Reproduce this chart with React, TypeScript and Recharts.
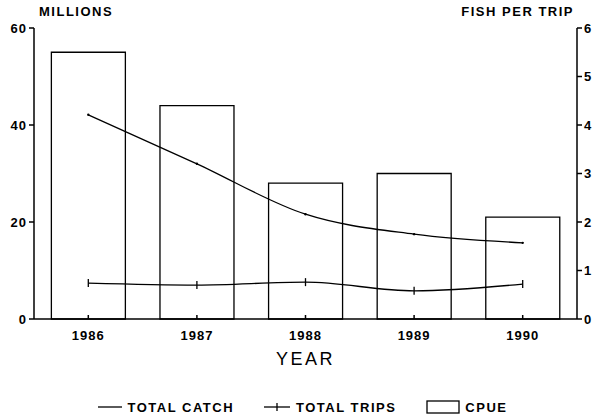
import React from "react";
import { ComposedChart, Bar, Line, XAxis, YAxis, Legend } from "recharts";

const years = ["1986", "1987", "1988", "1989", "1990"];
const totalCatch = [42.1, 32.0, 21.6, 17.5, 15.7];
const totalTrips = [7.4, 7.0, 7.6, 5.8, 7.2];
const cpue = [5.5, 4.4, 2.8, 3.0, 2.1];
const leftTicks = [0, 20, 40, 60];
const rightTicks = [0, 1, 2, 3, 4, 5, 6];

const data = years.map((year, i) => ({
  year,
  catch: totalCatch[i],
  trips: totalTrips[i],
  cpue: cpue[i],
}));

const FONT = "'Liberation Sans', Arial, sans-serif";
const tickStyle = { fontFamily: FONT, fontSize: 13, fontWeight: 700, fill: "#000", letterSpacing: 1 };
const titleStyle = { fontFamily: FONT, fontSize: 13, fontWeight: 700, fill: "#000", letterSpacing: 1.5 };

const CatchDot = (props: any) => {
  const { cx, cy } = props;
  return <circle cx={cx} cy={cy} r={1.2} fill="#000" />;
};

const TripDot = (props: any) => {
  const { cx, cy } = props;
  return <line x1={cx} y1={cy - 4} x2={cx} y2={cy + 4} stroke="#000" strokeWidth={1.3} />;
};

const LegendContent = () => (
  <div
    style={{
      display: "flex",
      justifyContent: "center",
      alignItems: "center",
      gap: 30,
      fontFamily: FONT,
      fontSize: 13,
      fontWeight: 700,
      letterSpacing: 1.5,
      height: 40,
      paddingTop: 28,
      paddingLeft: 12,
      boxSizing: "border-box",
      color: "#000",
    }}
  >
    <span style={{ display: "flex", alignItems: "center", gap: 6 }}>
      <svg width={24} height={10}>
        <line x1={0} y1={5} x2={24} y2={5} stroke="#000" strokeWidth={1.3} />
      </svg>
      TOTAL CATCH
    </span>
    <span style={{ display: "flex", alignItems: "center", gap: 6 }}>
      <svg width={26} height={10}>
        <line x1={0} y1={5} x2={26} y2={5} stroke="#000" strokeWidth={1.3} />
        <line x1={13} y1={1} x2={13} y2={9} stroke="#000" strokeWidth={1.3} />
      </svg>
      TOTAL TRIPS
    </span>
    <span style={{ display: "flex", alignItems: "center", gap: 5 }}>
      <svg width={34} height={14}>
        <rect x={1} y={1} width={32} height={12} fill="#fff" stroke="#000" strokeWidth={1.3} />
      </svg>
      CPUE
    </span>
  </div>
);

export default function App() {
  return (
    <div style={{ position: "absolute", left: 0, top: 0, background: "#fff" }}>
      <ComposedChart
        width={593}
        height={417}
        data={data}
        margin={{ top: 28, right: 0, bottom: 4, left: 0 }}
        barCategoryGap="16%"
      >
        <XAxis
          dataKey="year"
          xAxisId="top"
          orientation="top"
          tick={false}
          tickLine={false}
          height={0}
          stroke="#000"
          strokeWidth={1.5}
        />
        <XAxis
          dataKey="year"
          height={54}
          stroke="#000"
          strokeWidth={1.5}
          tick={tickStyle}
          tickLine={{ stroke: "#000" }}
          tickSize={-4}
          tickMargin={16}
          label={{
            value: "YEAR",
            position: "insideBottom",
            offset: 8,
            style: { fontFamily: FONT, fontSize: 18, fill: "#000", letterSpacing: 2.5 },
          }}
        />
        <YAxis
          yAxisId="left"
          width={34}
          domain={[0, 60]}
          ticks={leftTicks}
          stroke="#000"
          strokeWidth={1.5}
          tick={tickStyle}
          tickSize={5}
          label={{
            value: "MILLIONS",
            position: "insideTopLeft",
            dx: 34,
            dy: -26,
            style: { ...titleStyle, textAnchor: "start" },
          }}
        />
        <YAxis
          yAxisId="right"
          orientation="right"
          width={16}
          domain={[0, 6]}
          ticks={rightTicks}
          stroke="#000"
          strokeWidth={1.5}
          tick={tickStyle}
          tickSize={5}
          label={{
            value: "FISH PER TRIP",
            position: "insideTopRight",
            dx: -14,
            dy: -26,
            style: { ...titleStyle, textAnchor: "end" },
          }}
        />
        <Legend content={<LegendContent />} verticalAlign="bottom" height={40} />
        <Bar
          yAxisId="right"
          dataKey="cpue"
          fill="#fff"
          stroke="#000"
          strokeWidth={1.3}
          isAnimationActive={false}
        />
        <Line
          yAxisId="left"
          dataKey="catch"
          type="monotone"
          stroke="#000"
          strokeWidth={1.3}
          dot={<CatchDot />}
          activeDot={false}
          isAnimationActive={false}
        />
        <Line
          yAxisId="left"
          dataKey="trips"
          type="monotone"
          stroke="#000"
          strokeWidth={1.3}
          dot={<TripDot />}
          activeDot={false}
          isAnimationActive={false}
        />
      </ComposedChart>
    </div>
  );
}
